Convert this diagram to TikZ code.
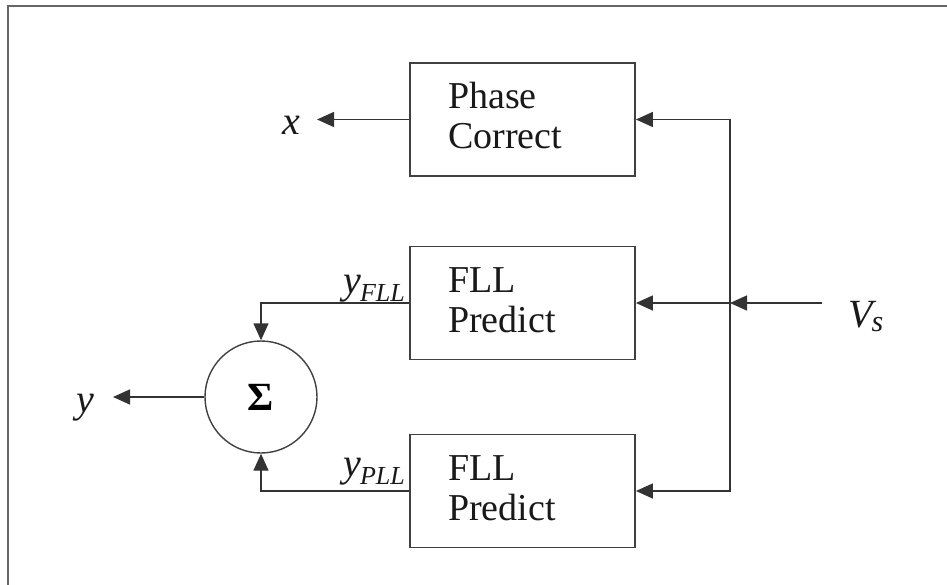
\documentclass[tikz,border=0pt]{standalone}
\usepackage{fontspec}
\setmainfont{Liberation Serif}
\usetikzlibrary{arrows.meta}
\begin{document}
\begin{tikzpicture}[x=1pt,y=-1pt,
  line/.style={draw=black!80, line width=1.4pt},
  arr/.style={line, -{Triangle[length=17pt,width=15pt]}},
  blk/.style={draw=black!75, line width=1.8pt, minimum width=225pt, minimum height=113pt, inner sep=0pt},
  btxt/.style={anchor=west, align=left, inner sep=0pt, text=black!90, font=\fontsize{38}{40}\selectfont},
  lbl/.style={inner sep=0pt, text=black!90, font=\fontsize{40}{40}\selectfont\itshape},
  sumnode/.style={circle, draw=black!75, line width=1.4pt, minimum size=112pt, inner sep=0pt, font=\fontsize{40}{40}\selectfont\bfseries},
]
\useasboundingbox (0,0) rectangle (947,585);
\draw[draw=black!60, line width=2pt] (8,585) -- (8,6) -- (947,6);

\node[blk] (pc) at (522.5,119.5) {};
\node[blk] (f1) at (522.5,303) {};
\node[blk] (f2) at (522.5,491) {};
\node[btxt] (pct) at (448,116) {Phase\\Correct};
\node[btxt] (f1t) at (448,300) {FLL\\Predict};
\node[btxt] (f2t) at (448,488) {FLL\\Predict};

\node[sumnode] (sum) at (261,397) {Σ};

\coordinate (vsin) at (822,303);
\coordinate (jn) at (730,303);
\coordinate (xt) at (317,119.5);
\coordinate (yt) at (113,397);

\draw[arr] (vsin) -- (jn);
\draw[arr] (jn) -- (f1.east);
\draw[arr] (jn) |- (pc.east);
\draw[arr] (jn) |- (f2.east);
\draw[arr] (pc.west) -- (xt);
\draw[arr] (sum.west) -- (yt);
\draw[arr] (f1.west) -| (sum.north);
\draw[arr] (f2.west) -| (sum.south);

\node[lbl, anchor=base west] (xl) at (282,135) {x};
\node[lbl, anchor=base west] (yl) at (76,412) {y};
\node[lbl, anchor=base west] (vsl) at (848,327) {V\kern-1pt\raisebox{-4pt}{\fontsize{30}{30}\selectfont s}};
\node[lbl, anchor=base east] (yfl) at (405,293) {y\kern-1pt\raisebox{-9pt}{\fontsize{26}{26}\selectfont FLL}};
\node[lbl, anchor=base east] (ypl) at (405,476) {y\kern-1pt\raisebox{-8pt}{\fontsize{26}{26}\selectfont PLL}};
\end{tikzpicture}
\end{document}
